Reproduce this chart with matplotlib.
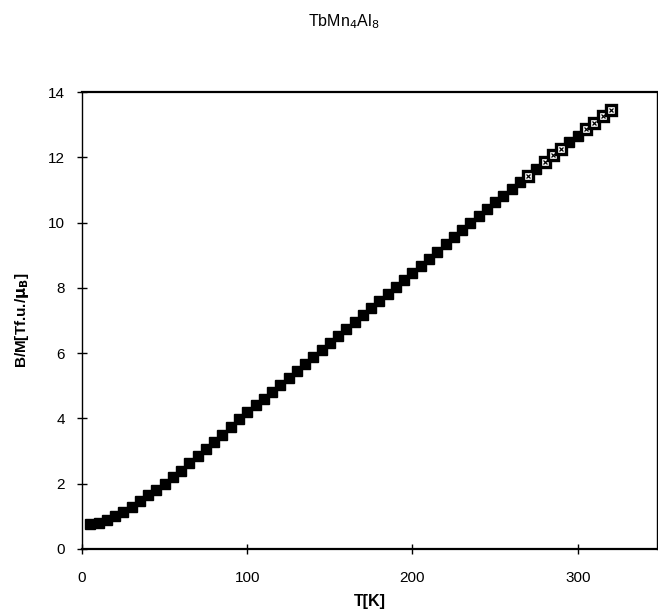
import matplotlib
matplotlib.use("Agg")
import matplotlib.pyplot as plt

plt.rcParams['font.family'] = ['Liberation Sans', 'DejaVu Sans']

temperature = [5, 10, 15, 20, 25, 30, 35, 40, 45, 50, 55, 60, 65, 70, 75, 80,
               85, 90, 95, 100, 105, 110, 115, 120, 125, 130, 135, 140, 145, 150,
               155, 160, 165, 170, 175, 180, 185, 190, 195, 200, 205, 210, 215,
               220, 225, 230, 235, 240, 245, 250, 255, 260, 265, 270, 275, 280,
               285, 290, 295, 300, 305, 310, 315, 320]
inv_susc = [0.76, 0.80, 0.88, 1.00, 1.14, 1.30, 1.48, 1.65, 1.82, 2.00, 2.19,
            2.40, 2.62, 2.84, 3.06, 3.28, 3.50, 3.74, 3.98, 4.20, 4.40, 4.60,
            4.82, 5.03, 5.24, 5.45, 5.67, 5.88, 6.09, 6.30, 6.52, 6.74, 6.96,
            7.18, 7.38, 7.60, 7.82, 8.03, 8.24, 8.46, 8.68, 8.89, 9.10, 9.34,
            9.55, 9.78, 10.00, 10.20, 10.42, 10.62, 10.82, 11.02, 11.24, 11.44,
            11.64, 11.86, 12.06, 12.26, 12.46, 12.66, 12.86, 13.06, 13.26, 13.46]

open_temperature = [270, 280, 285, 290, 305, 310, 315, 320]
open_inv_susc = [11.44, 11.86, 12.06, 12.26, 12.86, 13.06, 13.26, 13.46]

x_ticks = [0, 100, 200, 300]
y_ticks = [0, 2, 4, 6, 8, 10, 12, 14]

fig = plt.figure(figsize=(6.58, 6.16), dpi=100)
ax = fig.add_axes([0.1246, 0.1088, 0.874, 0.7418])

ax.plot(temperature, inv_susc, linestyle='none', marker='s', markersize=7.5,
        markerfacecolor='black', markeredgecolor='black')
ax.plot(open_temperature, open_inv_susc, linestyle='none', marker='s',
        markersize=6.5, markerfacecolor='white', markeredgecolor='black',
        markeredgewidth=2.4)
ax.plot(open_temperature, open_inv_susc, linestyle='none', marker='x',
        markersize=3, color='black', markeredgewidth=0.9)

ax.set_xlim(0, 348)
ax.set_ylim(0, 14)
ax.set_xticks(x_ticks)
ax.set_yticks(y_ticks)
ax.tick_params(direction='inout', length=7, width=1, labelsize=11)
ax.tick_params(axis='x', pad=12)
ax.tick_params(axis='y', pad=9)
for s in ax.spines.values():
    s.set_linewidth(1.0)
ax.spines['top'].set_linewidth(1.6)
ax.spines['bottom'].set_linewidth(1.6)

ax.set_xlabel('T[K]', fontsize=11.5, fontweight='bold', labelpad=7)
ax.set_ylabel(r'B/M[Tf.u./$\mathbf{\mu_B}$]', fontsize=11, fontweight='bold', labelpad=12)
fig.text(0.523, 0.965, r'TbMn$_4$Al$_8$', ha='center', va='center', fontsize=11.5)

fig.savefig('out.png', dpi=100)
